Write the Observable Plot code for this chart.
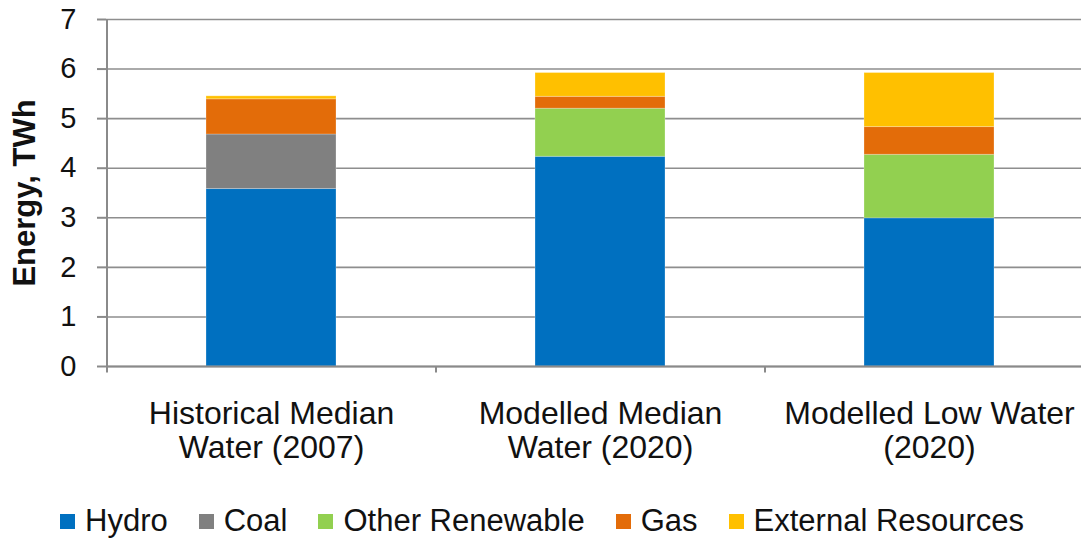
<!DOCTYPE html>
<html>
<head>
<meta charset="utf-8">
<script src="https://cdn.jsdelivr.net/npm/d3@7"></script>
<script src="https://cdn.jsdelivr.net/npm/@observablehq/plot@0.6"></script>
<style>
  html, body { margin: 0; padding: 0; background: #fff; }
  #wrap { position: relative; width: 1081px; height: 538px; overflow: hidden; font-family: "Liberation Sans", Arial, sans-serif; }
  #legend { position: absolute; left: 60px; top: 503px; display: flex; align-items: center; font-size: 31px; color: #111; white-space: nowrap; }
  .item { display: flex; align-items: center; margin-right: 31px; }
  .sw { width: 15px; height: 15px; margin-right: 10px; }
</style>
</head>
<body>
<div id="wrap"><div id="chart"></div><div id="legend"></div></div>
<script>
const categories = ["Historical Median Water (2007)", "Modelled Median Water (2020)", "Modelled Low Water (2020)"];
const categoryLabels = ["Historical Median\nWater (2007)", "Modelled Median\nWater (2020)", "Modelled Low Water\n(2020)"];
const seriesNames = ["Hydro", "Coal", "Other Renewable", "Gas", "External Resources"];
const seriesColors = ["#0070C0", "#808080", "#92D050", "#E36C09", "#FFC000"];
const hydro = [3.58, 4.23, 2.99];
const coal = [1.10, 0, 0];
const otherRenewable = [0, 0.97, 1.28];
const gas = [0.71, 0.24, 0.56];
const externalResources = [0.06, 0.48, 1.09];
const yTicks = [0, 1, 2, 3, 4, 5, 6, 7];

const seriesValues = [hydro, coal, otherRenewable, gas, externalResources];
const rows = [];
seriesNames.forEach((s, si) => {
  categories.forEach((c, ci) => rows.push({category: c, series: s, value: seriesValues[si][ci]}));
});

const labelMap = new Map(categories.map((c, i) => [c, categoryLabels[i]]));
const svgW = 1081, svgH = 490, mLeft = 106, mTop = 19, axisBottom = 366, xEnd = 1093;
const bandStep = (xEnd - mLeft) / categories.length;

const chart = Plot.plot({
  width: svgW,
  height: svgH,
  marginLeft: mLeft,
  marginRight: 0,
  marginTop: mTop,
  marginBottom: svgH - axisBottom,
  style: {fontFamily: "'Liberation Sans', Arial, sans-serif", color: "#111", background: "#fff"},
  x: {domain: categories, range: [mLeft, xEnd], paddingInner: 0.605, paddingOuter: 0.3025},
  y: {domain: [0, 7]},
  color: {domain: seriesNames, range: seriesColors},
  marks: [
    Plot.gridY(yTicks, {stroke: "#8e8e8e", strokeOpacity: 1, strokeWidth: 1.6}),
    Plot.barY(rows, Plot.stackY({order: seriesNames}, {x: "category", y: "value", fill: "series", stroke: "#fff", strokeOpacity: 0.25, strokeWidth: 1})),
    Plot.ruleY([0], {stroke: "#8a8a8a", strokeWidth: 2}),
    Plot.ruleX([categories[0]], {x: d => d, dx: -bandStep / 2, y1: 0, y2: 7, stroke: "#8a8a8a", strokeWidth: 2}),
    Plot.ruleX(categories, {x: d => d, dx: -bandStep / 2, y1: 0, y2: -0.13, stroke: "#8a8a8a", strokeWidth: 2}),
    Plot.axisY(yTicks, {
      tickSize: 9, tickPadding: 21, fontSize: 29, stroke: "#8a8a8a", strokeWidth: 2,
      tickFormat: d => String(d),
      label: "Energy, TWh", labelAnchor: "center", labelOffset: 94, labelArrow: "none"
    }),
    Plot.axisX({
      tickSize: 0, tickPadding: 33, fontSize: 32, lineHeight: 1.06,
      tickFormat: d => labelMap.get(d), label: null
    })
  ]
});
chart.querySelectorAll("g[aria-label='y-axis label'] text").forEach(t => { t.style.fontWeight = "bold"; t.style.fontSize = "31px"; });
document.getElementById("chart").appendChild(chart);

const legend = document.getElementById("legend");
seriesNames.forEach((s, i) => {
  const it = document.createElement("div");
  it.className = "item";
  const sw = document.createElement("div");
  sw.className = "sw";
  sw.style.background = seriesColors[i];
  const tx = document.createElement("span");
  tx.textContent = s;
  it.appendChild(sw); it.appendChild(tx);
  legend.appendChild(it);
});
</script>
</body>
</html>
